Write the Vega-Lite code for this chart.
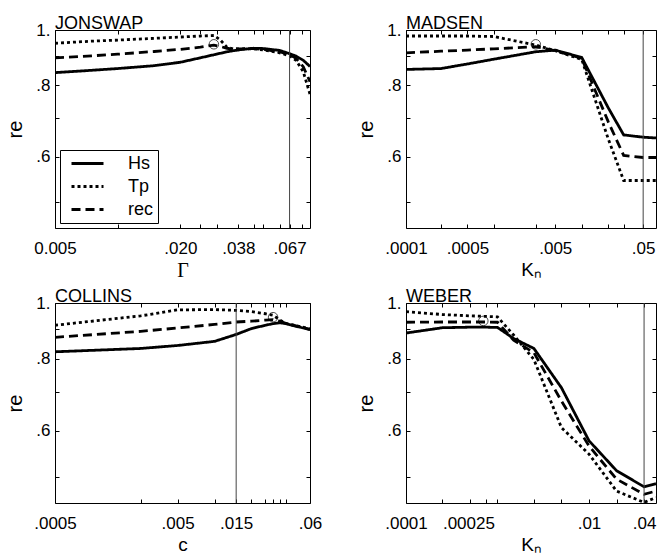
{
  "$schema": "https://vega.github.io/schema/vega-lite/v6.json",
  "padding": {"left": 5, "top": 14, "right": 0, "bottom": 0},
  "bounds": "flush",
  "columns": 2,
  "spacing": {"row": 75, "column": 96},
  "resolve": {"scale": {"strokeDash": "independent"}, "legend": {"strokeDash": "independent"}},
  "datasets": {
    "jonswap": [
      {"x": 0.005, "Hs": 0.842, "Tp": 0.948, "rec": 0.894},
      {"x": 0.0075, "Hs": 0.850, "Tp": 0.956, "rec": 0.901},
      {"x": 0.01, "Hs": 0.856, "Tp": 0.960, "rec": 0.907},
      {"x": 0.015, "Hs": 0.866, "Tp": 0.967, "rec": 0.917},
      {"x": 0.02, "Hs": 0.878, "Tp": 0.972, "rec": 0.925},
      {"x": 0.025, "Hs": 0.894, "Tp": 0.976, "rec": 0.933},
      {"x": 0.029, "Hs": 0.905, "Tp": 0.978, "rec": 0.941},
      {"x": 0.031, "Hs": 0.910, "Tp": 0.962, "rec": 0.936},
      {"x": 0.0335, "Hs": 0.916, "Tp": 0.933, "rec": 0.929},
      {"x": 0.036, "Hs": 0.920, "Tp": 0.926, "rec": 0.926},
      {"x": 0.04, "Hs": 0.925, "Tp": 0.927, "rec": 0.927},
      {"x": 0.045, "Hs": 0.929, "Tp": 0.927, "rec": 0.928},
      {"x": 0.05, "Hs": 0.928, "Tp": 0.923, "rec": 0.925},
      {"x": 0.06, "Hs": 0.921, "Tp": 0.912, "rec": 0.916},
      {"x": 0.067, "Hs": 0.909, "Tp": 0.901, "rec": 0.905},
      {"x": 0.072, "Hs": 0.900, "Tp": 0.885, "rec": 0.892},
      {"x": 0.078, "Hs": 0.885, "Tp": 0.845, "rec": 0.862},
      {"x": 0.084, "Hs": 0.863, "Tp": 0.772, "rec": 0.812}
    ],
    "madsen": [
      {"x": 0.0001, "Hs": 0.853, "Tp": 0.976, "rec": 0.912},
      {"x": 0.00025, "Hs": 0.856, "Tp": 0.976, "rec": 0.918},
      {"x": 0.0005, "Hs": 0.872, "Tp": 0.976, "rec": 0.922},
      {"x": 0.001, "Hs": 0.889, "Tp": 0.974, "rec": 0.927},
      {"x": 0.003, "Hs": 0.916, "Tp": 0.941, "rec": 0.935},
      {"x": 0.005, "Hs": 0.922, "Tp": 0.920, "rec": 0.920},
      {"x": 0.01, "Hs": 0.895, "Tp": 0.888, "rec": 0.892},
      {"x": 0.02, "Hs": 0.731, "Tp": 0.645, "rec": 0.691},
      {"x": 0.03, "Hs": 0.655, "Tp": 0.545, "rec": 0.603},
      {"x": 0.05, "Hs": 0.649, "Tp": 0.545, "rec": 0.598},
      {"x": 0.07, "Hs": 0.647, "Tp": 0.545, "rec": 0.598}
    ],
    "collins": [
      {"x": 0.0005, "Hs": 0.823, "Tp": 0.915, "rec": 0.872},
      {"x": 0.0025, "Hs": 0.834, "Tp": 0.950, "rec": 0.893},
      {"x": 0.005, "Hs": 0.844, "Tp": 0.973, "rec": 0.905},
      {"x": 0.01, "Hs": 0.858, "Tp": 0.974, "rec": 0.918},
      {"x": 0.015, "Hs": 0.882, "Tp": 0.971, "rec": 0.927},
      {"x": 0.02, "Hs": 0.903, "Tp": 0.966, "rec": 0.930},
      {"x": 0.026, "Hs": 0.915, "Tp": 0.958, "rec": 0.934},
      {"x": 0.03, "Hs": 0.921, "Tp": 0.952, "rec": 0.936},
      {"x": 0.034, "Hs": 0.924, "Tp": 0.935, "rec": 0.930},
      {"x": 0.038, "Hs": 0.921, "Tp": 0.922, "rec": 0.922},
      {"x": 0.06, "Hs": 0.899, "Tp": 0.902, "rec": 0.900}
    ],
    "weber": [
      {"x": 0.0001, "Hs": 0.887, "Tp": 0.966, "rec": 0.926},
      {"x": 0.00025, "Hs": 0.906, "Tp": 0.955, "rec": 0.927},
      {"x": 0.0005, "Hs": 0.908, "Tp": 0.950, "rec": 0.927},
      {"x": 0.00075, "Hs": 0.908, "Tp": 0.948, "rec": 0.927},
      {"x": 0.001, "Hs": 0.907, "Tp": 0.946, "rec": 0.926},
      {"x": 0.0015, "Hs": 0.868, "Tp": 0.880, "rec": 0.862},
      {"x": 0.0025, "Hs": 0.834, "Tp": 0.798, "rec": 0.820},
      {"x": 0.005, "Hs": 0.713, "Tp": 0.608, "rec": 0.676},
      {"x": 0.01, "Hs": 0.577, "Tp": 0.547, "rec": 0.565},
      {"x": 0.02, "Hs": 0.512, "Tp": 0.472, "rec": 0.495},
      {"x": 0.04, "Hs": 0.480, "Tp": 0.451, "rec": 0.466},
      {"x": 0.054, "Hs": 0.486, "Tp": 0.460, "rec": 0.472}
    ],
    "jonswap_opt": [{"x": 0.029, "re": 0.944}],
    "madsen_opt": [{"x": 0.003, "re": 0.944}],
    "collins_opt": [{"x": 0.03, "re": 0.945}],
    "weber_opt": [{"x": 0.0007, "re": 0.931}],
    "jonswap_ref": [{"x": 0.067}],
    "madsen_ref": [{"x": 0.05}],
    "collins_ref": [{"x": 0.015}],
    "weber_ref": [{"x": 0.04}]
  },
  "concat": [
    {
      "width": 255, "height": 198,
      "title": {"text": "JONSWAP"},
      "resolve": {"axis": {"x": "independent", "y": "independent"}},
      "layer": [
        {
          "data": {"name": "jonswap"},
          "transform": [{"fold": ["Hs", "Tp", "rec"], "as": ["series", "re"]}],
          "mark": {"type": "line", "color": "black", "strokeWidth": 2.8, "clip": true, "strokeCap": "butt"},
          "encoding": {
            "x": {"field": "x", "type": "quantitative", "scale": {"type": "log", "domain": [0.005, 0.084], "nice": false},
                  "axis": {"orient": "bottom", "values": [0.005, 0.01, 0.02, 0.025, 0.03, 0.038, 0.045, 0.05, 0.06, 0.067, 0.077],
                           "labelExpr": "datum.value == 0.005 ? '0.005' : datum.value == 0.02 ? '.020' : datum.value == 0.038 ? '.038' : datum.value == 0.067 ? '.067' : ''",
                           "title": "Γ", "titleFont": "Liberation Serif", "titleFontSize": 20}},
            "y": {"field": "re", "type": "quantitative", "scale": {"type": "log", "domain": [0.45, 1], "nice": false, "zero": false},
                  "axis": {"orient": "left", "values": [0.5, 0.6, 0.7, 0.8, 0.9, 1],
                           "labelExpr": "abs(datum.value - 1) < 0.001 ? '1.' : abs(datum.value - 0.8) < 0.001 ? '.8' : abs(datum.value - 0.6) < 0.001 ? '.6' : ''",
                           "title": "re"}},
            "strokeDash": {"field": "series", "type": "nominal",
                           "scale": {"domain": ["Hs", "Tp", "rec"], "range": [[1, 0], [3, 3], [9, 5]]},
                           "legend": {"orient": "bottom-left", "title": null, "offset": 5, "symbolType": "M-0.25,0H3.75", "symbolSize": 256,
                                      "symbolStrokeWidth": 3, "symbolStrokeColor": "black", "labelFontSize": 18, "labelOffset": 45,
                                      "labelColor": "black", "labelFont": "Liberation Sans",
                                      "strokeColor": "black", "fillColor": "white", "padding": 4, "rowPadding": 4}}
          }
        },
        {
          "data": {"name": "jonswap_opt"},
          "mark": {"type": "point", "shape": "circle", "filled": false, "color": "black", "size": 90, "strokeWidth": 1},
          "encoding": {
            "x": {"field": "x", "type": "quantitative", "scale": {"type": "log", "domain": [0.005, 0.084], "nice": false},
                  "axis": {"orient": "top", "values": [0.005, 0.01, 0.02, 0.025, 0.03, 0.038, 0.045, 0.05, 0.06, 0.067, 0.077], "labels": false, "title": null}},
            "y": {"field": "re", "type": "quantitative", "scale": {"type": "log", "domain": [0.45, 1], "nice": false, "zero": false},
                  "axis": {"orient": "right", "values": [0.5, 0.6, 0.7, 0.8, 0.9, 1], "labels": false, "title": null}}
          }
        },
        {
          "data": {"name": "jonswap_ref"},
          "mark": {"type": "rule", "color": "#444444", "strokeWidth": 1},
          "encoding": {"x": {"field": "x", "type": "quantitative", "scale": {"type": "log", "domain": [0.005, 0.084], "nice": false}, "axis": null}}
        }
      ]
    },
    {
      "width": 250, "height": 198,
      "title": {"text": "MADSEN"},
      "resolve": {"axis": {"x": "independent", "y": "independent"}},
      "layer": [
        {
          "data": {"name": "madsen"},
          "transform": [{"fold": ["Hs", "Tp", "rec"], "as": ["series", "re"]}],
          "mark": {"type": "line", "color": "black", "strokeWidth": 2.8, "clip": true, "strokeCap": "butt"},
          "encoding": {
            "x": {"field": "x", "type": "quantitative", "scale": {"type": "log", "domain": [0.0001, 0.07], "nice": false},
                  "axis": {"orient": "bottom", "values": [0.0001, 0.00025, 0.0005, 0.001, 0.003, 0.005, 0.01, 0.02, 0.03, 0.05],
                           "labelExpr": "datum.value == 0.0001 ? '.0001' : datum.value == 0.0005 ? '.0005' : datum.value == 0.005 ? '.005' : datum.value == 0.05 ? '.05' : ''",
                           "title": "Kₙ"}},
            "y": {"field": "re", "type": "quantitative", "scale": {"type": "log", "domain": [0.45, 1], "nice": false, "zero": false},
                  "axis": {"orient": "left", "values": [0.5, 0.6, 0.7, 0.8, 0.9, 1],
                           "labelExpr": "abs(datum.value - 1) < 0.001 ? '1.' : abs(datum.value - 0.8) < 0.001 ? '.8' : abs(datum.value - 0.6) < 0.001 ? '.6' : ''",
                           "title": "re"}},
            "strokeDash": {"field": "series", "type": "nominal",
                           "scale": {"domain": ["Hs", "Tp", "rec"], "range": [[1, 0], [3, 3], [9, 5]]}, "legend": null}
          }
        },
        {
          "data": {"name": "madsen_opt"},
          "mark": {"type": "point", "shape": "circle", "filled": false, "color": "black", "size": 90, "strokeWidth": 1},
          "encoding": {
            "x": {"field": "x", "type": "quantitative", "scale": {"type": "log", "domain": [0.0001, 0.07], "nice": false},
                  "axis": {"orient": "top", "values": [0.0001, 0.00025, 0.0005, 0.001, 0.003, 0.005, 0.01, 0.02, 0.03, 0.05], "labels": false, "title": null}},
            "y": {"field": "re", "type": "quantitative", "scale": {"type": "log", "domain": [0.45, 1], "nice": false, "zero": false},
                  "axis": {"orient": "right", "values": [0.5, 0.6, 0.7, 0.8, 0.9, 1], "labels": false, "title": null}}
          }
        },
        {
          "data": {"name": "madsen_ref"},
          "mark": {"type": "rule", "color": "#444444", "strokeWidth": 1},
          "encoding": {"x": {"field": "x", "type": "quantitative", "scale": {"type": "log", "domain": [0.0001, 0.07], "nice": false}, "axis": null}}
        }
      ]
    },
    {
      "width": 255, "height": 200,
      "title": {"text": "COLLINS"},
      "resolve": {"axis": {"x": "independent", "y": "independent"}},
      "layer": [
        {
          "data": {"name": "collins"},
          "transform": [{"fold": ["Hs", "Tp", "rec"], "as": ["series", "re"]}],
          "mark": {"type": "line", "color": "black", "strokeWidth": 2.8, "clip": true, "strokeCap": "butt"},
          "encoding": {
            "x": {"field": "x", "type": "quantitative", "scale": {"type": "log", "domain": [0.0005, 0.06], "nice": false},
                  "axis": {"orient": "bottom", "values": [0.0005, 0.0025, 0.005, 0.01, 0.015, 0.02, 0.026, 0.03, 0.034, 0.038, 0.06],
                           "labelExpr": "datum.value == 0.0005 ? '.0005' : datum.value == 0.005 ? '.005' : datum.value == 0.015 ? '.015' : datum.value == 0.06 ? '.06' : ''",
                           "title": "c"}},
            "y": {"field": "re", "type": "quantitative", "scale": {"type": "log", "domain": [0.45, 1], "nice": false, "zero": false},
                  "axis": {"orient": "left", "values": [0.5, 0.6, 0.7, 0.8, 0.9, 1],
                           "labelExpr": "abs(datum.value - 1) < 0.001 ? '1.' : abs(datum.value - 0.8) < 0.001 ? '.8' : abs(datum.value - 0.6) < 0.001 ? '.6' : ''",
                           "title": "re"}},
            "strokeDash": {"field": "series", "type": "nominal",
                           "scale": {"domain": ["Hs", "Tp", "rec"], "range": [[1, 0], [3, 3], [9, 5]]}, "legend": null}
          }
        },
        {
          "data": {"name": "collins_opt"},
          "mark": {"type": "point", "shape": "circle", "filled": false, "color": "black", "size": 90, "strokeWidth": 1},
          "encoding": {
            "x": {"field": "x", "type": "quantitative", "scale": {"type": "log", "domain": [0.0005, 0.06], "nice": false},
                  "axis": {"orient": "top", "values": [0.0005, 0.0025, 0.005, 0.01, 0.015, 0.02, 0.026, 0.03, 0.034, 0.038, 0.06], "labels": false, "title": null}},
            "y": {"field": "re", "type": "quantitative", "scale": {"type": "log", "domain": [0.45, 1], "nice": false, "zero": false},
                  "axis": {"orient": "right", "values": [0.5, 0.6, 0.7, 0.8, 0.9, 1], "labels": false, "title": null}}
          }
        },
        {
          "data": {"name": "collins_ref"},
          "mark": {"type": "rule", "color": "#444444", "strokeWidth": 1},
          "encoding": {"x": {"field": "x", "type": "quantitative", "scale": {"type": "log", "domain": [0.0005, 0.06], "nice": false}, "axis": null}}
        }
      ]
    },
    {
      "width": 250, "height": 200,
      "title": {"text": "WEBER"},
      "resolve": {"axis": {"x": "independent", "y": "independent"}},
      "layer": [
        {
          "data": {"name": "weber"},
          "transform": [{"fold": ["Hs", "Tp", "rec"], "as": ["series", "re"]}],
          "mark": {"type": "line", "color": "black", "strokeWidth": 2.8, "clip": true, "strokeCap": "butt"},
          "encoding": {
            "x": {"field": "x", "type": "quantitative", "scale": {"type": "log", "domain": [0.0001, 0.054], "nice": false},
                  "axis": {"orient": "bottom", "values": [0.0001, 0.00025, 0.0005, 0.00075, 0.001, 0.0025, 0.005, 0.01, 0.02, 0.04],
                           "labelExpr": "datum.value == 0.0001 ? '.0001' : datum.value == 0.00025 ? '.00025' : datum.value == 0.01 ? '.01' : datum.value == 0.04 ? '.04' : ''",
                           "labelAlign": {"condition": {"test": "datum.value == 0.00025", "value": "left"}, "value": "center"},
                           "title": "Kₙ"}},
            "y": {"field": "re", "type": "quantitative", "scale": {"type": "log", "domain": [0.45, 1], "nice": false, "zero": false},
                  "axis": {"orient": "left", "values": [0.5, 0.6, 0.7, 0.8, 0.9, 1],
                           "labelExpr": "abs(datum.value - 1) < 0.001 ? '1.' : abs(datum.value - 0.8) < 0.001 ? '.8' : abs(datum.value - 0.6) < 0.001 ? '.6' : ''",
                           "title": "re"}},
            "strokeDash": {"field": "series", "type": "nominal",
                           "scale": {"domain": ["Hs", "Tp", "rec"], "range": [[1, 0], [3, 3], [9, 5]]}, "legend": null}
          }
        },
        {
          "data": {"name": "weber_opt"},
          "mark": {"type": "point", "shape": "circle", "filled": false, "color": "black", "size": 90, "strokeWidth": 1},
          "encoding": {
            "x": {"field": "x", "type": "quantitative", "scale": {"type": "log", "domain": [0.0001, 0.054], "nice": false},
                  "axis": {"orient": "top", "values": [0.0001, 0.00025, 0.0005, 0.00075, 0.001, 0.0025, 0.005, 0.01, 0.02, 0.04], "labels": false, "title": null}},
            "y": {"field": "re", "type": "quantitative", "scale": {"type": "log", "domain": [0.45, 1], "nice": false, "zero": false},
                  "axis": {"orient": "right", "values": [0.5, 0.6, 0.7, 0.8, 0.9, 1], "labels": false, "title": null}}
          }
        },
        {
          "data": {"name": "weber_ref"},
          "mark": {"type": "rule", "color": "#444444", "strokeWidth": 1},
          "encoding": {"x": {"field": "x", "type": "quantitative", "scale": {"type": "log", "domain": [0.0001, 0.054], "nice": false}, "axis": null}}
        }
      ]
    }
  ],
  "config": {
    "font": "Liberation Sans",
    "background": "white",
    "view": {"stroke": "black", "strokeWidth": 1},
    "axis": {
      "domain": false, "grid": false,
      "tickColor": "black", "tickSize": -4, "tickWidth": 1,
      "labelFont": "Liberation Sans", "labelFontSize": 17, "labelColor": "black",
      "labelFlush": false, "labelOverlap": false, "labelBound": false,
      "titleFont": "Liberation Sans", "titleFontSize": 19, "titleFontWeight": "normal", "titleColor": "black"
    },
    "axisX": {"labelPadding": 16, "titlePadding": 4},
    "axisY": {"labelPadding": 9, "titlePadding": 10, "titleFontSize": 20},
    "title": {"anchor": "start", "frame": "group", "fontSize": 18, "fontWeight": "normal", "font": "Liberation Sans", "color": "black", "offset": -12}
  }
}
